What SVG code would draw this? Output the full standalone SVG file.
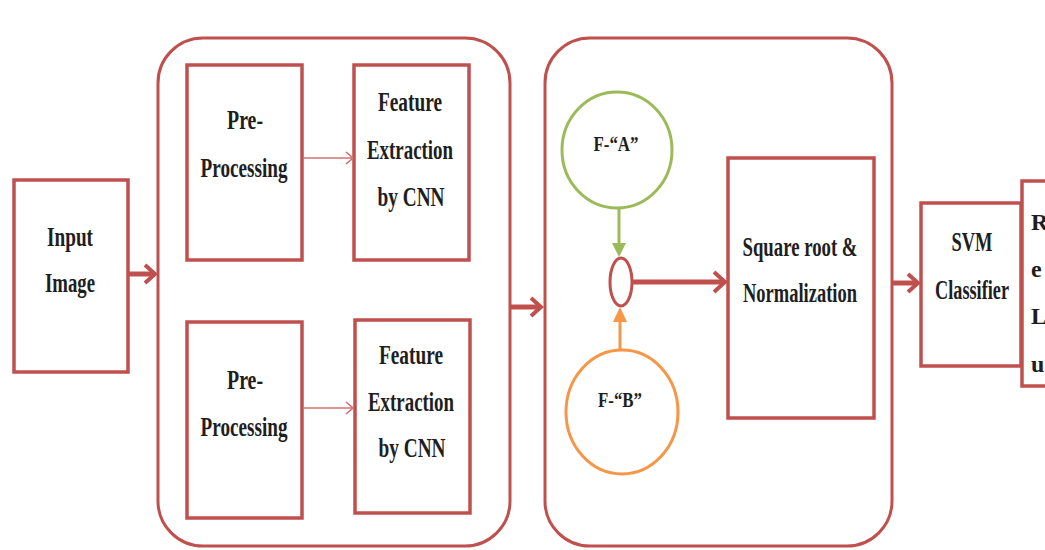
<svg xmlns="http://www.w3.org/2000/svg" width="1045" height="550" viewBox="0 0 1045 550">
<defs>
<style>
.box{fill:#fff;stroke:#c0504d;stroke-width:3.5}
.cont{fill:none;stroke:#c0504d;stroke-width:3}
.t{font-family:"Liberation Serif","Times New Roman",serif;font-weight:bold;font-size:28px;fill:#1e1e1e;text-anchor:middle}
.tr{font-family:"Liberation Serif","Times New Roman",serif;font-weight:bold;font-size:24px;fill:#1e1e1e;text-anchor:start}
.ts{font-family:"Liberation Serif","Times New Roman",serif;font-weight:bold;font-size:22px;fill:#1e1e1e;text-anchor:middle}
.thick{stroke:#c0504d;stroke-width:5;fill:none}
.thin{stroke:#d07070;stroke-width:1.6;fill:none}
.head{stroke:#c0504d;stroke-width:4;fill:none;stroke-linejoin:miter}
.headthin{stroke:#d07070;stroke-width:1.6;fill:none}
</style>
</defs>
<rect width="1045" height="550" fill="#fff"/>

<g id="container1"><rect class="cont" x="158" y="38" width="352" height="508" rx="45"/></g>
<g id="container2"><rect class="cont" x="545" y="38" width="347" height="508" rx="45"/></g>

<g id="input-image">
<rect class="box" x="14" y="180" width="114" height="192"/>
<text class="t" x="70" y="246" textLength="46" lengthAdjust="spacingAndGlyphs">Input</text>
<text class="t" x="70" y="292" textLength="50" lengthAdjust="spacingAndGlyphs">Image</text>
</g>

<g id="preprocessing-1">
<rect class="box" x="187" y="65" width="115" height="195"/>
<text class="t" x="245" y="129" textLength="36" lengthAdjust="spacingAndGlyphs">Pre-</text>
<text class="t" x="244" y="177" textLength="87" lengthAdjust="spacingAndGlyphs">Processing</text>
</g>

<g id="feature-extraction-1">
<rect class="box" x="354" y="65" width="115" height="195"/>
<text class="t" x="410" y="111" textLength="64" lengthAdjust="spacingAndGlyphs">Feature</text>
<text class="t" x="410" y="159" textLength="86" lengthAdjust="spacingAndGlyphs">Extraction</text>
<text class="t" x="411" y="206" textLength="67" lengthAdjust="spacingAndGlyphs">by CNN</text>
</g>

<g id="preprocessing-2">
<rect class="box" x="187" y="322" width="115" height="196"/>
<text class="t" x="245" y="389" textLength="36" lengthAdjust="spacingAndGlyphs">Pre-</text>
<text class="t" x="244" y="436" textLength="87" lengthAdjust="spacingAndGlyphs">Processing</text>
</g>

<g id="feature-extraction-2">
<rect class="box" x="355" y="320" width="115" height="193"/>
<text class="t" x="411" y="364" textLength="64" lengthAdjust="spacingAndGlyphs">Feature</text>
<text class="t" x="411" y="411" textLength="86" lengthAdjust="spacingAndGlyphs">Extraction</text>
<text class="t" x="412" y="457" textLength="67" lengthAdjust="spacingAndGlyphs">by CNN</text>
</g>

<g id="feature-a">
<ellipse cx="617" cy="150" rx="55" ry="58" fill="#fff" stroke="#9bbb59" stroke-width="3"/>
<text class="ts" x="616" y="151" textLength="45" lengthAdjust="spacingAndGlyphs">F-“A”</text>
</g>

<g id="feature-b">
<ellipse cx="622" cy="412" rx="56" ry="62" fill="#fff" stroke="#f79646" stroke-width="3"/>
<text class="ts" x="620" y="407" textLength="44" lengthAdjust="spacingAndGlyphs">F-“B”</text>
</g>

<g id="fusion">
<ellipse cx="621" cy="282" rx="11" ry="24" fill="#fff" stroke="#c0504d" stroke-width="3"/>
</g>

<g id="square-root-normalization">
<rect class="box" x="728" y="158" width="146" height="260"/>
<text class="t" x="800" y="256" textLength="115" lengthAdjust="spacingAndGlyphs">Square root &amp;</text>
<text class="t" x="800" y="302" textLength="114" lengthAdjust="spacingAndGlyphs">Normalization</text>
</g>

<g id="svm-classifier">
<rect class="box" x="921" y="203" width="100" height="163"/>
<text class="t" x="972" y="251" textLength="41" lengthAdjust="spacingAndGlyphs">SVM</text>
<text class="t" x="972" y="299" textLength="74" lengthAdjust="spacingAndGlyphs">Classifier</text>
</g>

<g id="result">
<rect class="box" x="1022" y="181" width="40" height="205"/>
<text class="tr" x="1031" y="230">R</text>
<text class="tr" x="1031" y="277">e</text>
<text class="tr" x="1031" y="324">L</text>
<text class="tr" x="1031" y="372">u</text>
</g>

<g id="connectors">
<line class="thick" x1="128" y1="274" x2="154" y2="274"/>
<polyline class="head" points="145,265 155,274 145,283"/>

<line class="thin" x1="303" y1="158" x2="353" y2="158"/>
<polyline class="headthin" points="346,152 353,158 346,164"/>

<line class="thin" x1="303" y1="408" x2="353" y2="408"/>
<polyline class="headthin" points="346,402 353,408 346,414"/>

<line class="thick" x1="510" y1="307" x2="540" y2="307"/>
<polyline class="head" points="531,298 541,307 531,316"/>

<line stroke="#9bbb59" stroke-width="3" x1="619" y1="208" x2="619" y2="246"/>
<polygon fill="#9bbb59" points="612,243 626,243 619,257"/>

<line stroke="#f79646" stroke-width="3" x1="620" y1="350" x2="620" y2="318"/>
<polygon fill="#f79646" points="613,322 627,322 620,307"/>

<line class="thick" x1="632" y1="282" x2="724" y2="282"/>
<polyline class="head" points="714,272 725,282 714,292"/>

<line class="thick" x1="892" y1="283" x2="917" y2="283"/>
<polyline class="head" points="908,274 918,283 908,292"/>
</g>
</svg>
